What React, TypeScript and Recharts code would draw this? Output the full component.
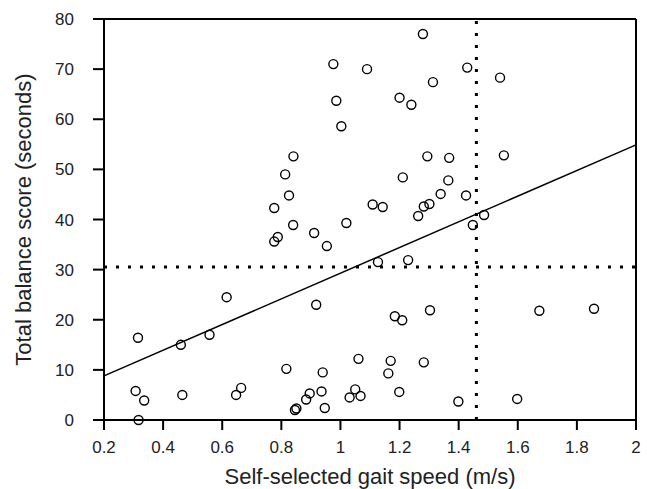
import React from 'react';
import {
  ScatterChart,
  Scatter,
  XAxis,
  YAxis,
  ReferenceLine,
} from 'recharts';

// gait speed (m/s) vs total balance score (s)
const speed = [
  0.315, 0.307, 0.336, 0.317, 0.46, 0.465, 0.557, 0.615, 0.647, 0.664,
  0.776, 0.788, 0.776, 0.813, 0.826, 0.841, 0.84, 0.817, 0.846, 0.851,
  0.884, 0.896, 0.911, 0.918, 0.936, 0.94, 0.947, 0.954, 0.976, 0.986,
  1.003, 1.02, 1.031, 1.05, 1.061, 1.068, 1.09, 1.109, 1.127, 1.143,
  1.162, 1.17, 1.184, 1.199, 1.2, 1.209, 1.211, 1.229, 1.24, 1.263,
  1.279, 1.282, 1.282, 1.294, 1.301, 1.303, 1.313, 1.339, 1.365, 1.368,
  1.399, 1.425, 1.429, 1.448, 1.486, 1.54, 1.553, 1.598, 1.673, 1.858,
];
const score = [
  16.4, 5.8, 3.9, 0, 15.0, 5.0, 17.0, 24.5, 5.0, 6.4,
  42.3, 36.5, 35.6, 49.0, 44.8, 52.6, 38.9, 10.2, 2.0, 2.3,
  4.1, 5.3, 37.3, 23.0, 5.7, 9.5, 2.4, 34.7, 71.0, 63.7,
  58.6, 39.3, 4.5, 6.1, 12.2, 4.8, 70.0, 43.0, 31.5, 42.5,
  9.3, 11.8, 20.7, 5.6, 64.3, 19.9, 48.4, 31.9, 62.9, 40.7,
  77.0, 42.6, 11.5, 52.6, 43.1, 21.9, 67.4, 45.1, 47.8, 52.3,
  3.7, 44.8, 70.3, 38.9, 40.9, 68.3, 52.8, 4.2, 21.8, 22.2,
];

// regression line end points and cut-off lines
const fitX = [0.2, 2];
const fitY = [8.8, 54.9];
const speedCutoff = 1.46;
const scoreCutoff = 30.5;

const xTicks = [0.2, 0.4, 0.6, 0.8, 1, 1.2, 1.4, 1.6, 1.8, 2];
const yTicks = [0, 10, 20, 30, 40, 50, 60, 70, 80];

const points = speed.map((s, i) => ({ speed: s, score: score[i] }));

const tickFont = { fontSize: 17, fill: '#222', fontFamily: '"Liberation Sans", Arial, sans-serif' };
const titleFont = { fontSize: 22, fill: '#222', fontFamily: '"Liberation Sans", Arial, sans-serif' };

const Ring = (props: any) => (
  <circle cx={props.cx} cy={props.cy} r={4.5} fill="none" stroke="#000" strokeWidth={1.4} />
);

const App = () => {
  return (
    <div style={{ position: 'absolute', left: 0, top: 0, background: '#fff' }}>
      <ScatterChart width={647} height={489} margin={{ top: 19, right: 11, left: 0, bottom: 0 }}>
        <XAxis
          type="number"
          dataKey="speed"
          domain={[0.2, 2]}
          ticks={xTicks}
          tickFormatter={(v: any) => String(Number(v.toFixed(1)))}
          tick={tickFont}
          tickSize={10}
          tickMargin={11}
          tickLine={{ stroke: '#000', strokeWidth: 2 }}
          axisLine={{ stroke: '#000', strokeWidth: 2 }}
          height={69}
          label={{ value: 'Self-selected gait speed (m/s)', position: 'insideBottom', offset: 5, style: titleFont }}
        />
        <YAxis
          type="number"
          dataKey="score"
          domain={[0, 80]}
          ticks={yTicks}
          tick={tickFont}
          tickSize={11}
          tickMargin={19}
          tickLine={{ stroke: '#000', strokeWidth: 2 }}
          axisLine={{ stroke: '#000', strokeWidth: 2 }}
          width={104}
          label={{ value: 'Total balance score (seconds)', angle: -90, position: 'insideLeft', offset: 23, style: { ...titleFont, textAnchor: 'middle' } }}
        />
        <ReferenceLine y={80} stroke="#000" strokeWidth={2} />
        <ReferenceLine x={2} stroke="#000" strokeWidth={2} />
        <ReferenceLine y={scoreCutoff} stroke="#000" strokeWidth={3} strokeDasharray="3 9" />
        <ReferenceLine x={speedCutoff} stroke="#000" strokeWidth={3} strokeDasharray="3 9" />
        <ReferenceLine
          segment={[
            { x: fitX[0], y: fitY[0] },
            { x: fitX[1], y: fitY[1] },
          ]}
          stroke="#000"
          strokeWidth={1.5}
        />
        <Scatter data={points} shape={Ring} isAnimationActive={false} />
      </ScatterChart>
    </div>
  );
};

export default App;
